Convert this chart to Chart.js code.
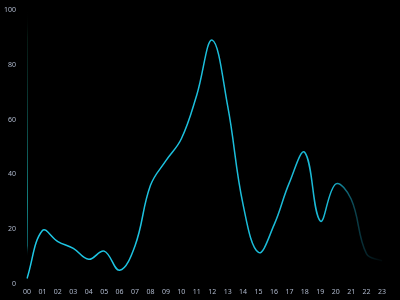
<!DOCTYPE html>
<html><head><meta charset="utf-8">
<script src="https://cdn.jsdelivr.net/npm/chart.js@4"></script>
<style>html,body{margin:0;padding:0;background:#000;}#w{width:400px;height:300px;}</style>
</head><body><div id="w"><canvas id="c" width="400" height="300"></canvas></div>
<script>
const hours = ['00','01','02','03','04','05','06','07','08','09','10','11','12','13','14','15','16','17','18','19','20','21','22','23'];
const values = [2, 19.5, 15.5, 13, 9, 12, 5, 14, 36, 45, 53, 69, 89, 65, 29, 11.5, 21.5, 37, 48, 23, 36.5, 31, 11, 8.5];
const yTicks = [0, 20, 40, 60, 80, 100];

const ctx = document.getElementById('c').getContext('2d');
function lineGrad(c) {
  const a = c.chart.chartArea;
  if (!a) return '#1ec8e6';
  const g = c.chart.ctx.createLinearGradient(a.left, 0, a.right, 0);
  g.addColorStop(0, '#1ec8e6');
  g.addColorStop(0.86, '#1ab8d4');
  g.addColorStop(0.92, 'rgba(15,90,105,0.8)');
  g.addColorStop(1, 'rgba(4,20,24,0.4)');
  return g;
}
function axisGrad(c) {
  const a = c.chart.chartArea;
  if (!a) return '#0a5a55';
  const g = c.chart.ctx.createLinearGradient(0, a.top, 0, a.bottom);
  g.addColorStop(0, 'rgba(0,0,0,0)');
  g.addColorStop(0.1, 'rgba(10,40,30,0.6)');
  g.addColorStop(0.7, 'rgba(20,140,140,0.9)');
  g.addColorStop(0.86, 'rgba(20,150,160,0.6)');
  g.addColorStop(0.9, 'rgba(0,0,0,0)');
  g.addColorStop(1, 'rgba(0,0,0,0)');
  return g;
}
new Chart(ctx, {
  type: 'line',
  data: { labels: hours, datasets: [{ data: values, borderColor: lineGrad, borderWidth: 1.5, pointRadius: 0, tension: 0.4, fill: false }] },
  options: {
    responsive: false, animation: false,
    layout: { padding: { top: 10, right: 18, left: 0, bottom: 0 } },
    plugins: { legend: { display: false }, tooltip: { enabled: false } },
    scales: {
      x: {
        offset: false,
        afterFit: (s) => { s.height = 16; s.paddingLeft = 0; s.paddingRight = 0; },
        grid: { display: false, drawTicks: false, drawOnChartArea: false, color: 'rgba(0,0,0,0)' },
        border: { display: false },
        ticks: { color: '#aeb8cc', font: { size: 7, family: 'Noto Sans' }, padding: 4, maxRotation: 0, autoSkip: false }
      },
      y: {
        min: 0, max: 100,
        afterBuildTicks: (s) => { s.ticks = yTicks.map(v => ({ value: v })); },
        afterFit: (s) => { s.width = 27; s.paddingTop = 0; s.paddingBottom = 0; },
        grid: { display: false, drawTicks: false },
        border: { display: true, color: axisGrad, width: 1 },
        ticks: { color: '#aeb8cc', font: { size: 7, family: 'Noto Sans' }, padding: 11 }
      }
    }
  }
});
</script></body></html>
